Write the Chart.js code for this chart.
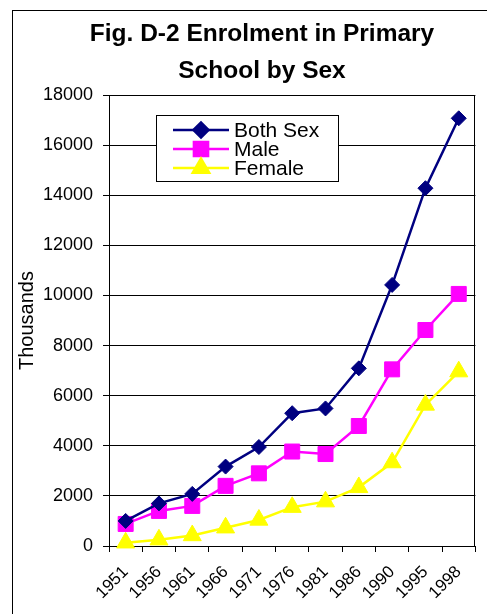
<!DOCTYPE html>
<html>
<head>
<meta charset="utf-8">
<title>Fig. D-2 Enrolment in Primary School by Sex</title>
<script src="https://cdn.jsdelivr.net/npm/chart.js@4/dist/chart.umd.min.js"></script>
<style>
  html, body { margin: 0; padding: 0; background: #fff; }
  #wrap { width: 487px; height: 614px; position: relative; }
</style>
</head>
<body>
<div id="wrap"><canvas id="chart"></canvas></div>
<script>
// Enrolment in primary school, thousands of pupils
const years   = ['1951', '1956', '1961', '1966', '1971', '1976', '1981', '1986', '1990', '1995', '1998'];
const bothSex = [1000, 1700, 2080, 3170, 3950, 5300, 5490, 7090, 10420, 14280, 17070];
const male    = [880, 1400, 1600, 2400, 2900, 3770, 3670, 4790, 7050, 8620, 10060];
const female  = [130, 250, 420, 730, 1040, 1550, 1770, 2340, 3330, 5630, 6960];

const seriesNames = ['Both Sex', 'Male', 'Female'];
const titleLines  = ['Fig. D-2 Enrolment in Primary', 'School by Sex'];
const yAxisTitle  = 'Thousands';
const yMin = 0, yMax = 18000, yStep = 2000;

const FONT = '"Liberation Sans", Arial, Helvetica, sans-serif';

// Outer frame, plot frame, two-line title and the boxed legend
const decorations = {
  id: 'decorations',
  beforeDraw(chart) {
    const ctx = chart.ctx;
    ctx.save();
    ctx.fillStyle = '#fff';
    ctx.fillRect(0, 0, chart.width, chart.height);
    ctx.strokeStyle = '#000';
    ctx.lineWidth = 1;
    ctx.strokeRect(12.5, 10.5, chart.width + 40, chart.height + 40);
    ctx.restore();
  },
  beforeDatasetsDraw(chart) {
    const ctx = chart.ctx, a = chart.chartArea;
    ctx.save();
    ctx.strokeStyle = '#000';
    ctx.lineWidth = 1;
    ctx.beginPath();
    ctx.moveTo(Math.round(a.left) + 0.5, Math.round(a.top) + 0.5);
    ctx.lineTo(Math.round(a.right) - 0.5, Math.round(a.top) + 0.5);
    ctx.lineTo(Math.round(a.right) - 0.5, Math.round(a.bottom) + 0.5);
    ctx.stroke();
    ctx.restore();
  },
  afterDraw(chart) {
    const ctx = chart.ctx;
    ctx.save();
    // title
    ctx.fillStyle = '#000';
    ctx.font = 'bold 24.5px ' + FONT;
    ctx.textAlign = 'center';
    ctx.textBaseline = 'alphabetic';
    ctx.fillText(titleLines[0], 262, 41);
    ctx.fillText(titleLines[1], 262, 78);

    // legend
    const bx = 156.5, by = 115.5, bw = 182, bh = 66;
    ctx.fillStyle = '#fff';
    ctx.fillRect(bx, by, bw, bh);
    ctx.strokeStyle = '#000';
    ctx.lineWidth = 1;
    ctx.strokeRect(bx, by, bw, bh);
    const legendRadius = [7.5, 10, 9.5];
    chart.data.datasets.forEach((ds, i) => {
      const y = 130 + i * 19;
      ctx.strokeStyle = ds.borderColor;
      ctx.lineWidth = ds.borderWidth;
      ctx.beginPath();
      ctx.moveTo(173, y);
      ctx.lineTo(229, y);
      ctx.stroke();
      ctx.fillStyle = ds.pointBackgroundColor;
      ctx.strokeStyle = ds.pointBorderColor;
      Chart.helpers.drawPoint(ctx, {
        pointStyle: ds.pointStyle,
        radius: legendRadius[i],
        borderWidth: 1,
        rotation: 0
      }, 201, y);
      ctx.fillStyle = '#000';
      ctx.font = '21px ' + FONT;
      ctx.textAlign = 'left';
      ctx.textBaseline = 'middle';
      ctx.fillText(ds.label, 234, y + 1);
    });
    ctx.restore();
  }
};

function lineSeries(label, data, color, style, radius) {
  return {
    label: label,
    data: data,
    borderColor: color,
    backgroundColor: color,
    borderWidth: 2.5,
    tension: 0,
    pointStyle: style,
    pointRadius: radius,
    pointHoverRadius: radius,
    pointBackgroundColor: color,
    pointBorderColor: color,
    pointBorderWidth: 1,
    clip: false
  };
}

new Chart(document.getElementById('chart'), {
  type: 'line',
  data: {
    labels: years,
    datasets: [
      lineSeries(seriesNames[0], bothSex, '#000080', 'rectRot', 7.5),
      lineSeries(seriesNames[1], male, '#ff00ff', 'rect', 10.6),
      lineSeries(seriesNames[2], female, '#ffff00', 'triangle', 10.4)
    ]
  },
  options: {
    responsive: true,
    maintainAspectRatio: false,
    animation: false,
    events: [],
    layout: { padding: { left: 13, right: 4, top: 95, bottom: 0 } },
    plugins: {
      legend: { display: false },
      title: { display: false },
      tooltip: { enabled: false }
    },
    scales: {
      x: {
        type: 'category',
        offset: true,
        grid: {
          offset: true,
          drawOnChartArea: false,
          drawTicks: true,
          tickLength: 6,
          color: '#000',
          lineWidth: 1
        },
        border: { display: true, color: '#000', width: 1 },
        ticks: {
          autoSkip: false,
          minRotation: 45,
          maxRotation: 45,
          padding: 10,
          color: '#000',
          font: { family: FONT, size: 17 }
        },
        afterFit(scale) { scale.height = 68; }
      },
      y: {
        min: yMin,
        max: yMax,
        grid: {
          drawOnChartArea: true,
          drawTicks: true,
          tickLength: 6,
          color: '#000',
          lineWidth: 1
        },
        border: { display: true, color: '#000', width: 1 },
        ticks: {
          stepSize: yStep,
          padding: 10,
          color: '#000',
          font: { family: FONT, size: 18 },
          callback: (v) => String(v)
        },
        title: {
          display: true,
          text: yAxisTitle,
          color: '#000',
          font: { family: FONT, size: 20 },
          padding: { top: 2, bottom: 0 }
        },
        afterFit(scale) { scale.width = 96; }
      }
    }
  },
  plugins: [decorations]
});
</script>
</body>
</html>
